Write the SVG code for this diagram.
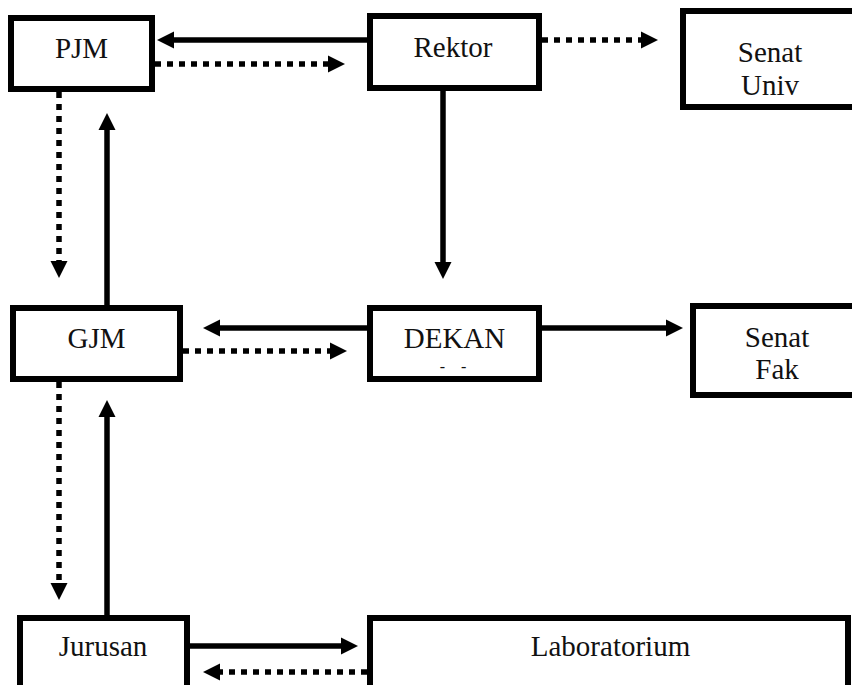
<svg xmlns="http://www.w3.org/2000/svg" width="852" height="685" viewBox="0 0 852 685">
<style>
.box{fill:#fff;stroke:#000;stroke-width:6}
.t{font-family:"Liberation Serif","Times New Roman","DejaVu Serif","Noto Serif",serif;font-size:29px;fill:#111;text-anchor:middle}
.c{stroke:#000;stroke-width:5.5;fill:none;marker-end:url(#ah)}
.d{stroke-dasharray:6 6}
</style>
<defs>
<marker id="ah" markerUnits="userSpaceOnUse" markerWidth="18" markerHeight="18" viewBox="0 -9 18 18" refX="0" refY="0" orient="auto" overflow="visible">
<path d="M0,-8.5 L17,0 L0,8.5 z" fill="#000"/>
</marker>
</defs>
<rect width="852" height="685" fill="#fff"/>
<g id="connectors">
<line class="c" x1="367" y1="40" x2="174" y2="40"/>
<line class="c d" x1="155" y1="64" x2="328" y2="64"/>
<line class="c d" x1="542" y1="40" x2="641" y2="40"/>
<line class="c d" x1="59" y1="92" x2="59" y2="261"/>
<line class="c" x1="107" y1="305" x2="107" y2="130"/>
<line class="c" x1="443" y1="91" x2="443" y2="262"/>
<line class="c" x1="367" y1="328" x2="220" y2="328"/>
<line class="c d" x1="183" y1="351" x2="330" y2="351"/>
<line class="c" x1="542" y1="328" x2="666" y2="328"/>
<line class="c d" x1="59" y1="382" x2="59" y2="583"/>
<line class="c" x1="107" y1="615" x2="107" y2="417"/>
<line class="c" x1="190" y1="646" x2="341" y2="646"/>
<line class="c d" x1="367" y1="672" x2="220" y2="672"/>
</g>
<g id="pjm"><rect class="box" x="11" y="18" width="141" height="71"/><text class="t" x="81.5" y="58">PJM</text></g>
<g id="rektor"><rect class="box" x="370" y="16" width="169" height="72"/><text class="t" x="453" y="57">Rektor</text></g>
<g id="senat-univ"><rect class="box" x="683" y="11" width="200" height="96"/><text class="t" x="770" y="62">Senat</text><text class="t" x="770" y="95">Univ</text></g>
<g id="gjm"><rect class="box" x="13" y="308" width="167" height="71"/><text class="t" x="96.5" y="348">GJM</text></g>
<g id="dekan"><rect class="box" x="370" y="308" width="169" height="71"/><text class="t" x="454.5" y="348">DEKAN</text><text class="t" x="456" y="372" style="font-size:16px;letter-spacing:6px">- -</text></g>
<g id="senat-fak"><rect class="box" x="693" y="306" width="200" height="89"/><text class="t" x="777" y="347">Senat</text><text class="t" x="777" y="379">Fak</text></g>
<g id="jurusan"><rect class="box" x="20" y="618" width="167" height="100"/><text class="t" x="103" y="656">Jurusan</text></g>
<g id="laboratorium"><rect class="box" x="370" y="618" width="478" height="100"/><text class="t" x="610.5" y="656">Laboratorium</text></g>
</svg>
